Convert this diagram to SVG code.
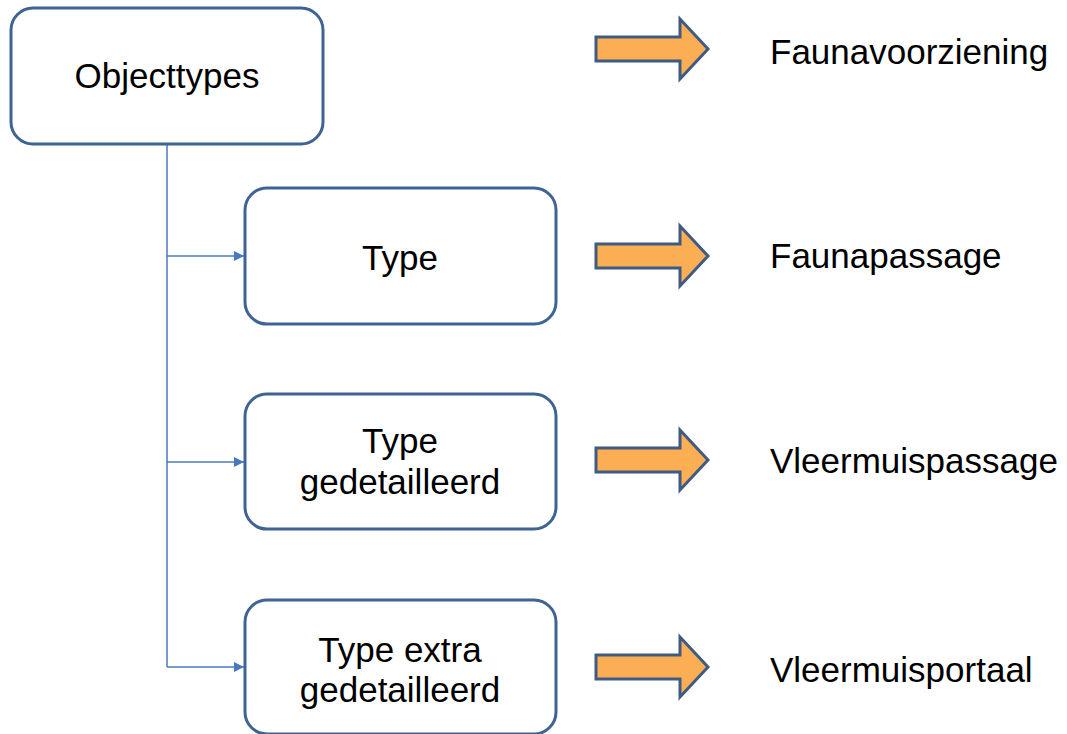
<svg xmlns="http://www.w3.org/2000/svg" width="1067" height="734" viewBox="0 0 1067 734">
<defs>
<style>
.box{fill:#fff;stroke:#3f6393;stroke-width:3}
.t{font-family:"Liberation Sans",Arial,sans-serif;font-size:35px;fill:#000}
.c{text-anchor:middle}
.conn{fill:none;stroke:#4a78c0;stroke-width:1.5}
.arr{fill:#fbae54;stroke:#3f5b82;stroke-width:3;stroke-linejoin:miter}
</style>
<marker id="ah" viewBox="0 0 10 10" refX="10" refY="5" markerWidth="10" markerHeight="10" markerUnits="userSpaceOnUse" orient="auto">
<path d="M0,0 L10,5 L0,10 Z" fill="#4a78c0"/>
</marker>
<path id="bigarrow" class="arr" d="M0,-12 L84,-12 L84,-30 L112,0 L84,30 L84,12 L0,12 Z"/>
</defs>
<g id="connectors">
<path class="conn" d="M167,145 V667"/>
<path class="conn" d="M167,256 H244" marker-end="url(#ah)"/>
<path class="conn" d="M167,462 H244" marker-end="url(#ah)"/>
<path class="conn" d="M167,667 H244" marker-end="url(#ah)"/>
</g>
<g id="objecttypes">
<rect class="box" x="11" y="8" width="312" height="136" rx="22"/>
<text class="t c" x="167" y="88">Objecttypes</text>
</g>
<g id="type">
<rect class="box" x="245" y="188" width="311" height="136" rx="22"/>
<text class="t c" x="400" y="270">Type</text>
</g>
<g id="type-gedetailleerd">
<rect class="box" x="245" y="394" width="311" height="135" rx="22"/>
<text class="t c" x="400" y="453">Type</text>
<text class="t c" x="400" y="494">gedetailleerd</text>
</g>
<g id="type-extra-gedetailleerd">
<rect class="box" x="245" y="600" width="311" height="134" rx="22"/>
<text class="t c" x="400" y="662">Type extra</text>
<text class="t c" x="400" y="702">gedetailleerd</text>
</g>
<g id="arrow1"><use href="#bigarrow" x="596" y="49"/></g>
<g id="arrow2"><use href="#bigarrow" x="596" y="256"/></g>
<g id="arrow3"><use href="#bigarrow" x="596" y="460"/></g>
<g id="arrow4"><use href="#bigarrow" x="596" y="667"/></g>
<g id="faunavoorziening"><text class="t" x="770" y="64">Faunavoorziening</text></g>
<g id="faunapassage"><text class="t" x="770" y="268">Faunapassage</text></g>
<g id="vleermuispassage"><text class="t" x="770" y="473">Vleermuispassage</text></g>
<g id="vleermuisportaal"><text class="t" x="770" y="682">Vleermuisportaal</text></g>
</svg>
